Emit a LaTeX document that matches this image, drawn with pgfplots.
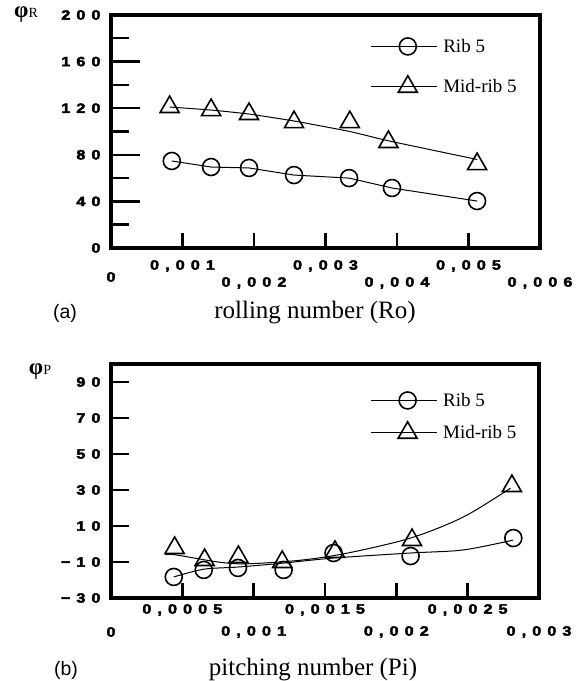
\documentclass[border=0pt]{standalone}
\usepackage{fontspec}
\setmainfont{Liberation Serif}
\newfontfamily\tickfont[LetterSpace=45,FakeStretch=1.2,FakeBold=3]{Liberation Sans Bold}
\newfontfamily\arialfont{Liberation Sans}
\usepackage{pgfplots}
\pgfplotsset{compat=1.18}

\newcommand{\tickfmt}{\tickfont\fontsize{13.5}{15}\selectfont}

\pgfplotsset{
  panel/.style={
    scale only axis,
    tick style={draw=none},
    tick align=inside,
    major tick length=0pt, minor tick length=0pt,
    xtick pos=bottom, ytick pos=left,
    scaled x ticks=false,
    clip=false,
    tick label style={font=\tickfmt},
    yticklabel style={anchor=east, xshift=-7pt},
    xticklabel style={anchor=center},
    legend style={draw=none, fill=none, inner sep=0pt,
      font=\fontsize{19}{22}\selectfont, cells={anchor=west},
      /tikz/every odd column/.append style={column sep=4pt}},
    legend image code/.code={\draw[##1,mark repeat=2,mark phase=2]
      plot coordinates {(0pt,0pt) (37pt,0pt) (66pt,0pt)};},
  },
  curve/.style={black, line width=1pt, forget plot},
  ribmark/.style={black, only marks, mark=o, mark size=8.5pt,
    mark options={line width=1.6pt, #1}, forget plot},
  midmark/.style={black, only marks, mark=triangle, mark size=11pt,
    mark options={line width=1.6pt, #1}, forget plot},
}

\begin{document}
\begin{tikzpicture}
\path[use as bounding box] (0pt,0pt) rectangle (584pt,681pt);

% (a) rolling
\begin{axis}[panel,
  at={(111pt,433pt)}, anchor=south west,
  width=429pt, height=233pt,
  xmin=0, xmax=0.006, ymin=0, ymax=200,
  ytick={0,40,80,120,160,200},
  yticklabels={0,40,80,120,160,200},
  xtick={0.001,0.003,0.005},
  xticklabels={{0,001},{0,003},{0,005}},
  xticklabel style={yshift=-18pt},
  extra x ticks={0.002,0.004,0.006},
  extra x tick labels={{0,002},{0,004},{0,006}},
  extra x tick style={xticklabel style={yshift=-17pt}},
  legend style={at={(0.604,0.906)}, anchor=north west, row sep=20pt},
]
\pgfplotsinvokeforeach{0.001,0.002,0.003,0.004,0.005}{
  \draw[line width=2.4pt] (axis cs:#1,0) -- ++(0pt,15pt);}
\pgfplotsinvokeforeach{40,80,120,160}{
  \draw[line width=2.4pt] (axis cs:0,#1) -- ++(29pt,0pt);}
\pgfplotsinvokeforeach{20,60,100,140,180}{
  \draw[line width=2.4pt] (axis cs:0,#1) -- ++(18pt,0pt);}
\draw[line width=3.5pt] (rel axis cs:0,0) rectangle (rel axis cs:1,1);
\addplot[curve] coordinates {(0.00085,74.7) (0.0014,69.5) (0.00193,68.7) (0.00256,62.6) (0.00333,60) (0.00393,51.5) (0.00512,40.3)};
\addplot[curve, smooth, tension=0.3] coordinates {(0.00082,121) (0.0014,118.4) (0.00193,115) (0.00256,109) (0.00334,100) (0.00388,92) (0.00512,76)};
\addplot[ribmark={fill=white}] coordinates {(0.00085,74.7) (0.0014,69.5) (0.00193,68.7) (0.00256,62.6) (0.00333,60) (0.00393,51.5) (0.00512,40.3)};
\addplot[midmark={fill=white}] coordinates {(0.00082,121) (0.0014,118.4) (0.00193,115) (0.00256,108) (0.00334,108) (0.00388,91) (0.00512,72)};
\addlegendimage{black, line width=1pt, mark=o, mark size=8.5pt, mark options={line width=1.6pt, fill=white}}
\addlegendentry{Rib 5}
\addlegendimage{black, line width=1pt, mark=triangle, mark size=11pt, mark options={line width=1.6pt, fill=white}}
\addlegendentry{Mid-rib 5}
\end{axis}

% (b) pitching
\begin{axis}[panel,
  at={(111pt,83pt)}, anchor=south west,
  width=428pt, height=234pt,
  xmin=0, xmax=0.003, ymin=-30, ymax=100,
  ytick={-30,-10,10,30,50,70,90},
  yticklabels={−30,−10,10,30,50,70,90},
  xtick={0.0005,0.0015,0.0025},
  xticklabels={{0,0005},{0,0015},{0,0025}},
  xticklabel style={yshift=-12pt},
  extra x ticks={0.001,0.002,0.003},
  extra x tick labels={{0,001},{0,002},{0,003}},
  extra x tick style={xticklabel style={yshift=-22pt}},
  legend style={at={(0.605,0.885)}, anchor=north west, row sep=12pt},
]
\pgfplotsinvokeforeach{0.0005,0.001,0.0015,0.002,0.0025}{
  \draw[line width=2.4pt] (axis cs:#1,-30) -- ++(0pt,15pt);}
\pgfplotsinvokeforeach{-10,10,30,50,70,90}{
  \draw[line width=2.4pt] (axis cs:0,#1) -- ++(18pt,0pt);}
\draw[line width=3.5pt] (rel axis cs:0,0) rectangle (rel axis cs:1,1);
\addplot[curve, smooth] coordinates {(0.00044,-18.3) (0.00065,-14) (0.00089,-12.8) (0.00121,-10.6) (0.00156,-7.8) (0.0021,-5) (0.00247,-3.3) (0.00282,2.2)};
\addplot[curve, smooth] coordinates {(0.00038,-6) (0.00045,-6) (0.00075,-10) (0.00095,-11) (0.00133,-9) (0.00166,-5) (0.0021,3.3) (0.00247,15) (0.0028,31)};
\addplot[ribmark={}] coordinates {(0.00044,-18.3) (0.00065,-14.4) (0.00089,-13.3) (0.00121,-14.4) (0.00156,-5) (0.0021,-6.7) (0.00282,3.3)};
\addplot[midmark={}] coordinates {(0.000446,-2.2) (0.000656,-8.9) (0.000893,-7.2) (0.0012,-10) (0.00157,-4.4) (0.00211,2.2) (0.00281,32.2)};
\addlegendimage{black, line width=1pt, mark=o, mark size=8.5pt, mark options={line width=1.6pt}}
\addlegendentry{Rib 5}
\addlegendimage{black, line width=1pt, mark=triangle, mark size=11pt, mark options={line width=1.6pt}}
\addlegendentry{Mid-rib 5}
\end{axis}

% labels
\node[font=\tickfmt] at (111pt,404pt) {0};
\node[font=\tickfmt] at (111pt,49pt) {0};
\node[font=\arialfont\fontsize{19.5}{22}\selectfont] at (65pt,368pt) {(a)};
\node[font=\fontsize{25}{28}\selectfont] at (315pt,368pt) {rolling number (Ro)};
\node[font=\arialfont\fontsize{19.5}{22}\selectfont] at (66pt,11pt) {(b)};
\node[font=\fontsize{25}{28}\selectfont] at (313pt,11pt) {pitching number (Pi)};
\node[font=\fontsize{23}{24}\selectfont] at (26pt,666pt) {\textbf{φ}{\fontsize{14}{15}\selectfont R}};
\node[font=\fontsize{23}{24}\selectfont] at (40pt,309pt) {\textbf{φ}{\fontsize{14}{15}\selectfont P}};
\end{tikzpicture}
\end{document}
